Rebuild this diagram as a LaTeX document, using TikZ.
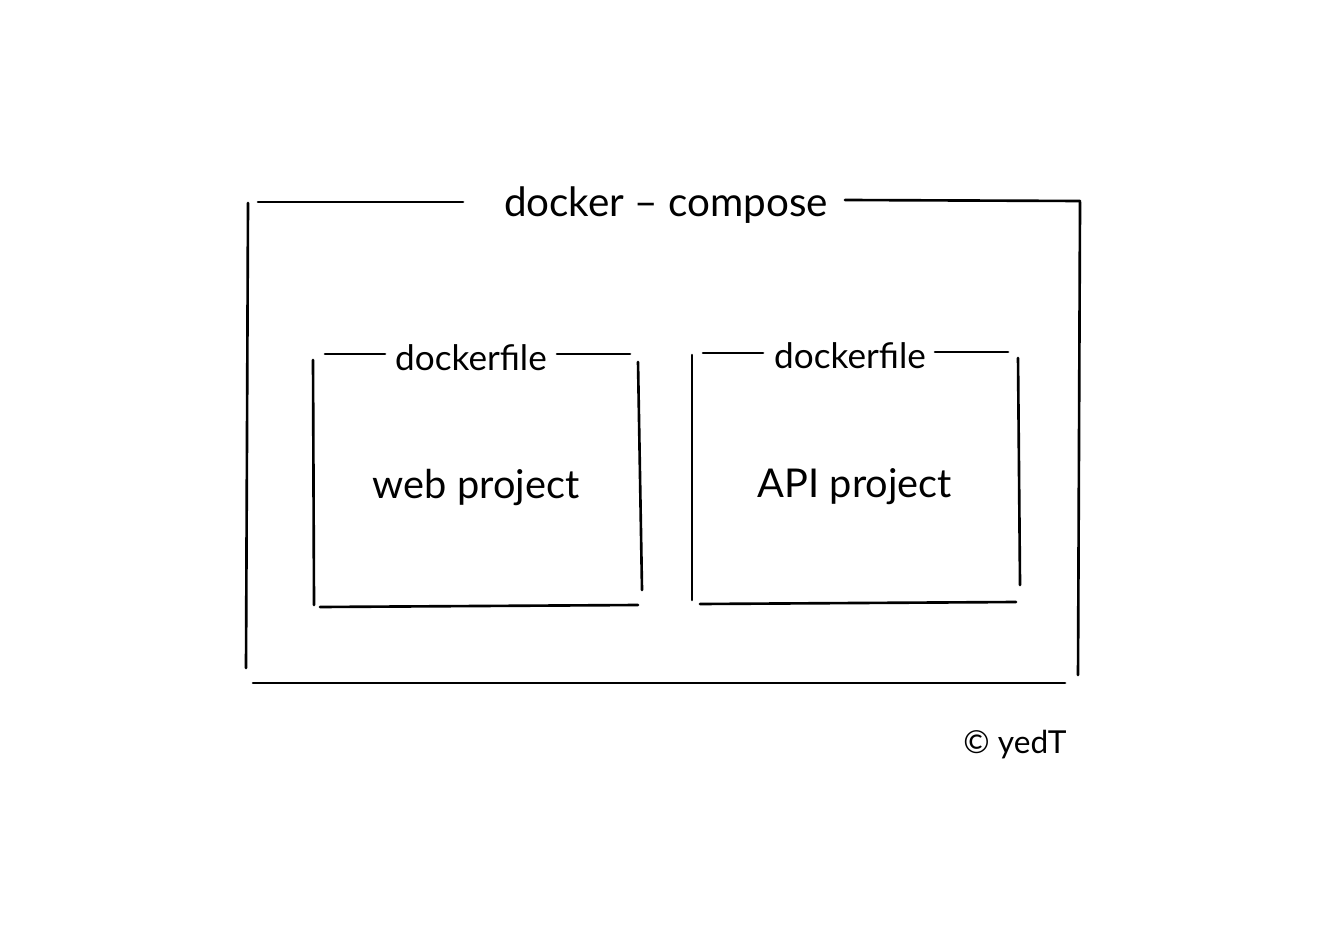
\documentclass[tikz,border=0pt]{standalone}
\usepackage{fontspec}
\setmainfont{Lato}
\usepackage{tikz}
\usetikzlibrary{positioning}
\tikzset{
  pen/.style    = {draw=black, line width=0.75pt, line cap=round},
  title/.style  = {font=\fontsize{11.5}{14}\selectfont, inner sep=2pt},
  label/.style  = {font=\fontsize{10}{12}\selectfont, inner sep=2pt},
  inner/.style  = {font=\fontsize{11.3}{13}\selectfont, inner sep=2pt},
  sign/.style   = {font=\fontsize{9}{11}\selectfont, inner sep=1pt}
}

\begin{document}
\begin{tikzpicture}
      \useasboundingbox (0,0) rectangle (13.32,9.38);
      % docker-compose frame
      \node[title] (compose) at (6.66, 7.33) {docker – compose};
      \draw[pen] (2.58, 7.36) -- (4.63, 7.36);
      \draw[pen] (8.45, 7.38) -- (10.80, 7.37);
      \draw[pen] (2.48, 7.35) -- (2.46, 2.70);
      \draw[pen] (10.80, 7.36) -- (10.78, 2.63);
      \draw[pen] (2.53, 2.55) -- (10.65, 2.55);
      % web dockerfile
      \node[label] (webfile) at (4.71, 5.80) {dockerfile};
      \node[inner] (web) at (4.76, 4.51) {web project};
      \draw[pen] (3.25, 5.84) -- (3.85, 5.84);
      \draw[pen] (5.57, 5.84) -- (6.30, 5.84);
      \draw[pen] (3.13, 5.78) -- (3.14, 3.33);
      \draw[pen] (6.38, 5.76) -- (6.42, 3.48);
      \draw[pen] (3.20, 3.31) -- (6.38, 3.33);
      % api dockerfile
      \node[label] (apifile) at (8.50, 5.82) {dockerfile};
      \node[inner] (api) at (8.55, 4.51) {API project};
      \draw[pen] (7.03, 5.85) -- (7.63, 5.85);
      \draw[pen] (9.35, 5.86) -- (10.08, 5.86);
      \draw[pen] (6.92, 5.83) -- (6.92, 3.38);
      \draw[pen] (10.18, 5.80) -- (10.20, 3.53);
      \draw[pen] (7.00, 3.34) -- (10.16, 3.36);
      \node[sign] (yedt) at (10.15, 1.93) {© yedT};
\end{tikzpicture}
\end{document}
